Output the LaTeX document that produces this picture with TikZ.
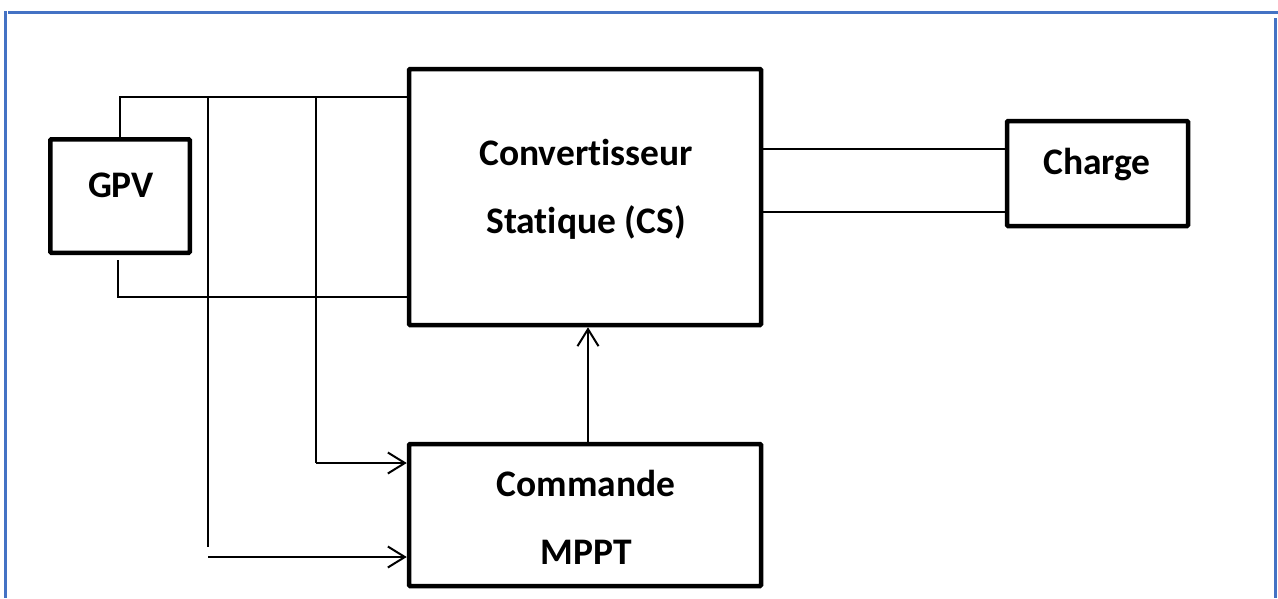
\documentclass[tikz,border=0pt]{standalone}
\usepackage{fontspec}
\setmainfont{Carlito}[Ligatures={NoCommon}]
\usetikzlibrary{arrows.meta}
\definecolor{frameblue}{HTML}{4472C4}
\tikzset{
  block/.style={draw=black, line width=4.5pt, rounded corners=1pt, inner sep=0pt},
  lbl/.style={font=\fontsize{37.5}{41}\selectfont\bfseries, inner sep=0pt},
  wire/.style={line width=2pt},
  sig/.style={line width=2pt, -{Straight Barb[length=17pt,width=21pt,line width=2pt]}},
  frameline/.style={draw=frameblue, line width=3pt}
}
\begin{document}
\begin{tikzpicture}[x=1pt,y=-1pt]
\useasboundingbox (0,0) rectangle (1278,598);

% outer frame
\draw[frameline] (8,12) -- (1278,12);
\draw[frameline] (5.5,11) -- (5.5,598);
\draw[frameline] (1275.5,18) -- (1275.5,598);

% blocks
\node[block, minimum width=139.5pt, minimum height=113.5pt] (gpv) at (120,196) {};
\node[lbl] (gpvtext) at (121,185) {GPV};

\node[block, minimum width=352pt, minimum height=256pt] (cs) at (585,197) {};
\node[lbl] (cstext1) at (586,152) {Convertisseur};
\node[lbl] (cstext2) at (586,223) {Statique (CS)};

\node[block, minimum width=352pt, minimum height=142pt] (cmd) at (585,515) {};
\node[lbl] (cmdtext1) at (586,483) {Commande};
\node[lbl] (cmdtext2) at (586,552) {MPPT};

\node[block, minimum width=181pt, minimum height=105pt] (load) at (1097.5,173.5) {};
\node[lbl] (loadtext) at (1097,165) {Charge};

% junction points on the supply lines
\coordinate (ptop) at (120,97);
\coordinate (pbot) at (118,297);
\coordinate (j1) at (208,97);
\coordinate (j2) at (316,97);
\coordinate (e1) at (208,547);
\coordinate (s1) at (208,557);
\coordinate (e2) at (316,463);

% supply lines GPV -> CS
\draw[wire] (gpv.north) -- (ptop) -- (ptop -| cs.west);
\draw[wire] ([yshift=-5pt]gpv.south -| pbot) -- (pbot) -- (pbot -| cs.west);

% measurement taps to the MPPT control
\draw[wire] (j1) -- (e1);
\draw[wire] (j2) -- (e2);
\draw[sig] (e2) -- (e2 -| cmd.west);
\draw[sig] (s1) -- (s1 -| cmd.west);

% duty-cycle command
\draw[sig] (cmd.north -| 588,0) -- (cs.south -| 588,0);

% CS -> load
\draw[wire] (cs.east |- 0,149) -- (load.west |- 0,149);
\draw[wire] (cs.east |- 0,212) -- (load.west |- 0,212);
\end{tikzpicture}
\end{document}
